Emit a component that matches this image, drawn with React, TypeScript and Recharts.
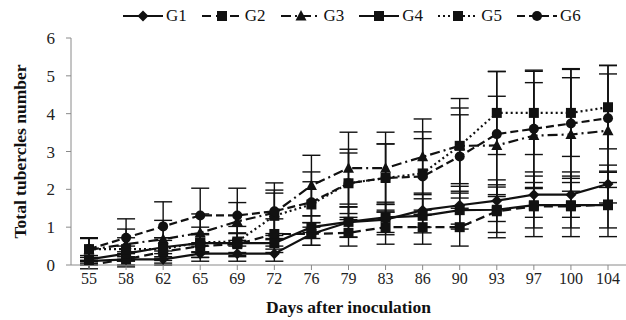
import React from "react";
import { LineChart, Line, XAxis, YAxis, ErrorBar, Legend } from "recharts";

// days after inoculation
const days = ["55", "58", "62", "65", "69", "72", "76", "79", "83", "86", "90", "93", "97", "100", "104"];

// mean tubercle counts per group
const g1 = [0.1, 0.15, 0.15, 0.3, 0.3, 0.3, 0.82, 1.13, 1.2, 1.45, 1.58, 1.7, 1.86, 1.86, 2.14];
const g2 = [0.0, 0.15, 0.35, 0.5, 0.55, 0.82, 0.82, 0.85, 1.0, 1.0, 1.0, 1.42, 1.55, 1.55, 1.6];
const g3 = [0.4, 0.55, 0.68, 0.85, 1.15, 1.38, 2.1, 2.56, 2.56, 2.86, 3.15, 3.16, 3.42, 3.45, 3.55];
const g4 = [0.15, 0.3, 0.47, 0.58, 0.58, 0.58, 1.0, 1.14, 1.26, 1.3, 1.45, 1.46, 1.58, 1.58, 1.58];
const g5 = [0.42, 0.42, 0.42, 0.6, 0.62, 1.3, 1.6, 2.16, 2.3, 2.42, 3.15, 4.02, 4.02, 4.02, 4.17];
const g6 = [0.42, 0.72, 1.02, 1.31, 1.31, 1.42, 1.66, 2.16, 2.3, 2.34, 2.87, 3.46, 3.6, 3.74, 3.88];

// standard deviations (error bars)
const g1Err = [0.1, 0.15, 0.15, 0.2, 0.2, 0.2, 0.3, 0.4, 0.4, 0.45, 0.5, 0.55, 0.6, 0.6, 0.5];
const g2Err = [0.1, 0.2, 0.3, 0.3, 0.3, 0.4, 0.3, 0.35, 0.45, 0.45, 0.5, 0.7, 0.8, 0.8, 0.85];
const g3Err = [0.3, 0.4, 0.5, 0.5, 0.5, 0.6, 0.8, 0.95, 0.95, 1.0, 1.0, 1.3, 1.4, 1.5, 1.5];
const g4Err = [0.1, 0.2, 0.25, 0.25, 0.25, 0.25, 0.3, 0.4, 0.4, 0.45, 0.5, 0.6, 0.6, 0.6, 0.6];
const g5Err = [0.3, 0.3, 0.3, 0.4, 0.4, 0.6, 0.6, 0.8, 0.9, 1.1, 1.25, 1.1, 1.1, 1.15, 1.1];
const g6Err = [0.3, 0.5, 0.65, 0.72, 0.72, 0.75, 0.8, 0.9, 0.9, 1.0, 1.1, 1.65, 1.55, 1.45, 1.4];

const yTicks = [0, 1, 2, 3, 4, 5, 6];

type Shape = "diamond" | "square" | "triangle" | "circle";

const series: { key: string; name: string; dash?: string; shape: Shape }[] = [
  { key: "g1", name: "G1", shape: "diamond" },
  { key: "g2", name: "G2", dash: "9 5", shape: "square" },
  { key: "g3", name: "G3", dash: "10 4 2 4", shape: "triangle" },
  { key: "g4", name: "G4", shape: "square" },
  { key: "g5", name: "G5", dash: "2 3", shape: "square" },
  { key: "g6", name: "G6", dash: "8 4", shape: "circle" },
];

const data = days.map((day, i) => ({
  day,
  g1: g1[i], g1Err: g1Err[i],
  g2: g2[i], g2Err: g2Err[i],
  g3: g3[i], g3Err: g3Err[i],
  g4: g4[i], g4Err: g4Err[i],
  g5: g5[i], g5Err: g5Err[i],
  g6: g6[i], g6Err: g6Err[i],
}));

const INK = "#111";
const AXIS = "#8a8a8a";
const FONT = "'Liberation Serif', 'Times New Roman', serif";

function Marker({ shape, x, y }: { shape: Shape; x: number; y: number }) {
  if (shape === "square") return <rect x={x - 5} y={y - 5} width={10} height={10} fill={INK} />;
  if (shape === "diamond")
    return <polygon points={`${x},${y - 5.5} ${x + 5.5},${y} ${x},${y + 5.5} ${x - 5.5},${y}`} fill={INK} />;
  if (shape === "triangle")
    return <polygon points={`${x},${y - 6} ${x + 5.5},${y + 4.5} ${x - 5.5},${y + 4.5}`} fill={INK} />;
  return <circle cx={x} cy={y} r={5} fill={INK} />;
}

const makeDot = (shape: Shape) => (props: any) => {
  const { cx, cy, index } = props;
  if (cx == null || cy == null) return <g key={index} />;
  return (
    <g key={index}>
      <Marker shape={shape} x={cx} y={cy} />
    </g>
  );
};

function LegendContent() {
  return (
    <div style={{ display: "flex", gap: 15, fontFamily: FONT, fontSize: 17, color: INK }}>
      {series.map((s) => (
        <div key={s.key} style={{ display: "flex", alignItems: "center", gap: 3 }}>
          <svg width={40} height={14}>
            <line x1={0} x2={40} y1={7} y2={7} stroke={INK} strokeWidth={2} strokeDasharray={s.dash} />
            <Marker shape={s.shape} x={20} y={7} />
          </svg>
          <span>{s.name}</span>
        </div>
      ))}
    </div>
  );
}

export default function App() {
  return (
    <div style={{ position: "absolute", left: 0, top: 0, background: "#fff" }}>
      <LineChart width={626} height={320} data={data} margin={{ top: 18, right: 0, left: 9, bottom: 0 }}>
        <XAxis
          dataKey="day"
          height={55}
          interval={0}
          padding={{ left: 18, right: 18 }}
          stroke={AXIS}
          tickSize={5}
          tickMargin={3}
          tick={{ fill: "#222", fontSize: 16, fontFamily: FONT }}
          label={{
            value: "Days after inoculation",
            position: "insideBottom",
            offset: 7,
            style: { fill: INK, fontSize: 17.5, fontWeight: "bold", fontFamily: FONT },
          }}
        />
        <YAxis
          width={62}
          domain={[0, 6]}
          ticks={yTicks}
          allowDataOverflow
          stroke={AXIS}
          tickSize={5}
          tickMargin={11}
          tick={{ fill: "#222", fontSize: 17, fontFamily: FONT }}
          label={{
            content: ({ viewBox }: any) => {
              const cx = viewBox.x + 11;
              const cy = viewBox.y + viewBox.height / 2;
              return (
                <text
                  x={cx}
                  y={cy}
                  transform={`rotate(-90 ${cx} ${cy})`}
                  textAnchor="middle"
                  dominantBaseline="central"
                  fill={INK}
                  fontSize={17.5}
                  fontWeight="bold"
                  fontFamily={FONT}
                >
                  Total  tubercles number
                </text>
              );
            },
          }}
        />
        <Legend verticalAlign="top" content={<LegendContent />} wrapperStyle={{ top: 6, left: 123, width: 480 }} />
        {series.map((s) => (
          <Line
            key={s.key}
            dataKey={s.key}
            name={s.name}
            type="linear"
            stroke={INK}
            strokeWidth={2.2}
            strokeDasharray={s.dash}
            dot={makeDot(s.shape)}
            activeDot={false}
            isAnimationActive={false}
          >
            <ErrorBar dataKey={`${s.key}Err`} width={9} stroke={INK} strokeWidth={1.4} direction="y" />
          </Line>
        ))}
      </LineChart>
    </div>
  );
}
